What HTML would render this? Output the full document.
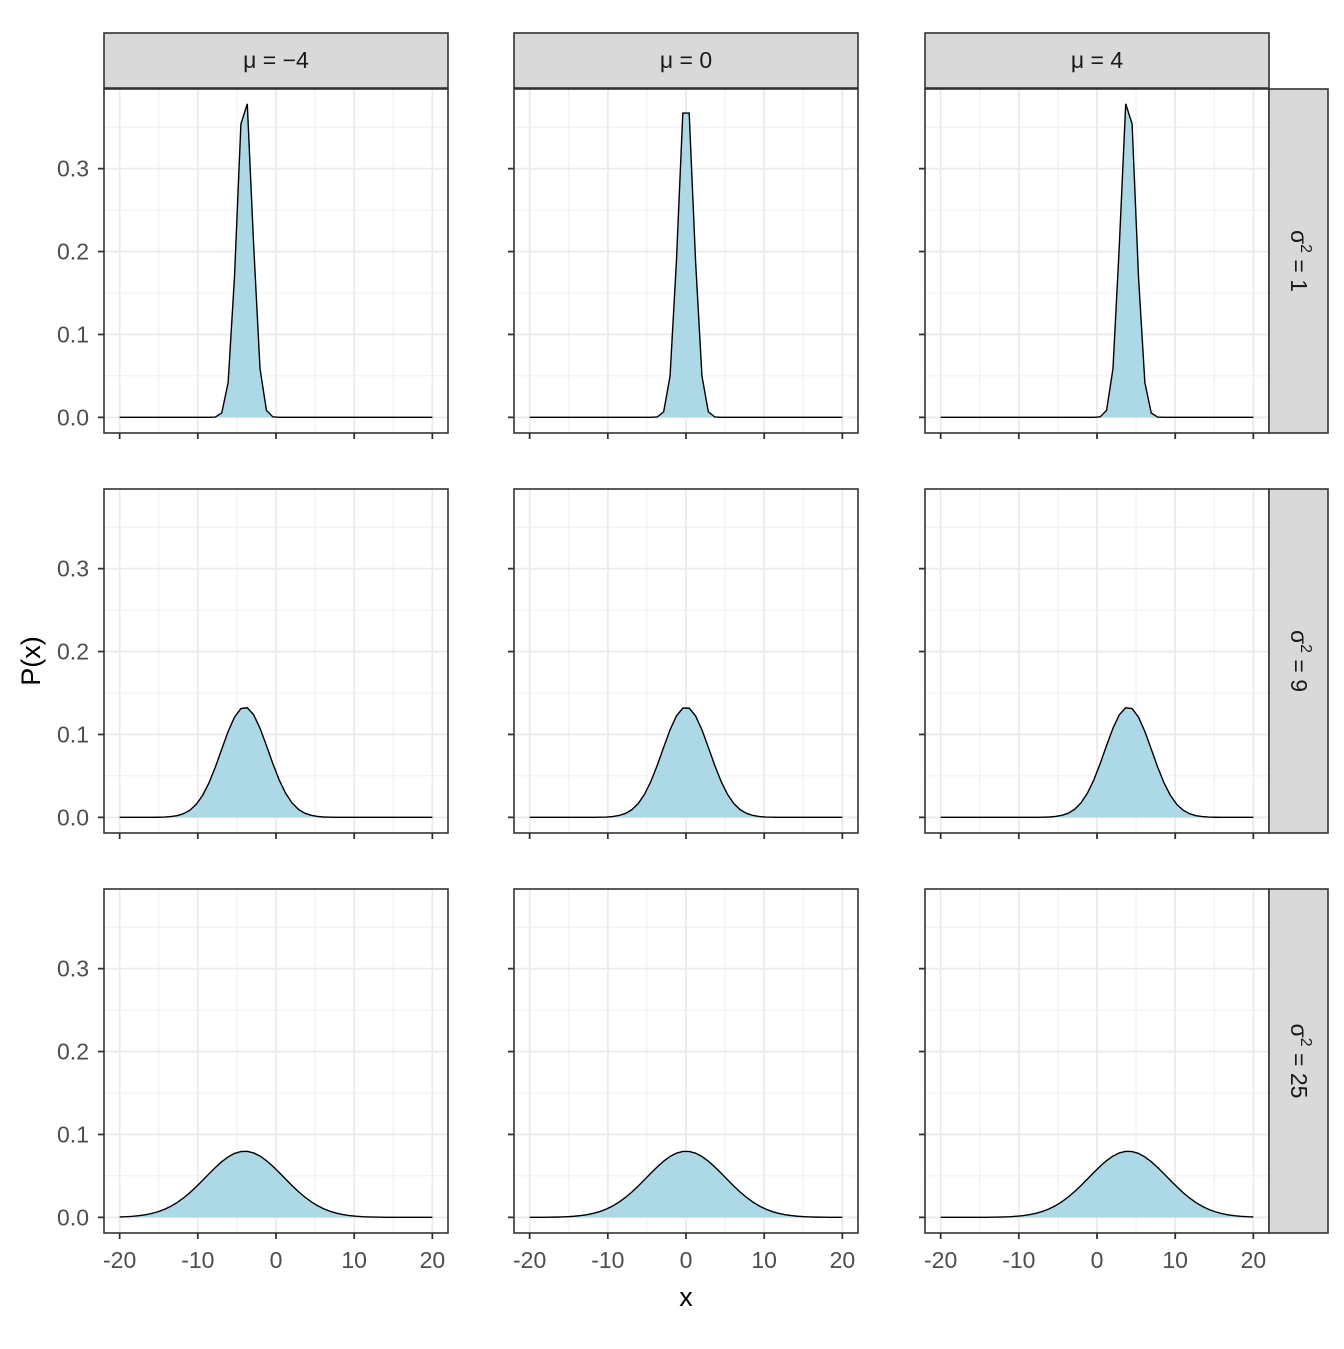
<!DOCTYPE html>
<html><head><meta charset="utf-8"><style>
html,body{margin:0;padding:0;background:#fff;}
svg text{font-family:"Liberation Sans","DejaVu Sans",sans-serif;}
</style></head><body>
<svg id="s" xmlns="http://www.w3.org/2000/svg" width="1344" height="1344" viewBox="0 0 1344 1344">
<rect width="1344" height="1344" fill="#fff"/>
</svg>
<script>
const s=document.getElementById('s');
let h='';
const cols=[104,514,925], rows=[89,489,889], W=344, H=344;
const mus=[-4,0,4], vars=[1,9,25];
const sx=W/44, ymax=0.3772, sy=H/(ymax*1.1);
function dn(x,m,v){return Math.exp(-(x-m)*(x-m)/(2*v))/Math.sqrt(2*Math.PI*v);}
const xs=[];for(let k=0;k<50;k++)xs.push(-20+40*k/49);
for(let r=0;r<3;r++)for(let c=0;c<3;c++){
 const L=cols[c],T=rows[r];
 const X=x=>L+(x+22)*sx, Y=y=>T+H-(y+ymax*0.05)*sy;
 h+=`<rect x="${L}" y="${T}" width="${W}" height="${H}" fill="#fff"/>`;
 for(const g of [-15,-5,5,15])h+=`<line x1="${X(g)}" x2="${X(g)}" y1="${T}" y2="${T+H}" stroke="#EBEBEB" stroke-width="0.8"/>`;
 for(const g of [0.05,0.15,0.25,0.35])h+=`<line y1="${Y(g)}" y2="${Y(g)}" x1="${L}" x2="${L+W}" stroke="#EBEBEB" stroke-width="0.8"/>`;
 for(const g of [-20,-10,0,10,20])h+=`<line x1="${X(g)}" x2="${X(g)}" y1="${T}" y2="${T+H}" stroke="#EBEBEB" stroke-width="1.8"/>`;
 for(const g of [0,0.1,0.2,0.3])h+=`<line y1="${Y(g)}" y2="${Y(g)}" x1="${L}" x2="${L+W}" stroke="#EBEBEB" stroke-width="1.8"/>`;
 const pts=xs.map(x=>X(x).toFixed(2)+','+Y(dn(x,mus[c],vars[r])).toFixed(2));
 h+=`<polygon points="${X(-20)},${Y(0)} ${pts.join(' ')} ${X(20)},${Y(0)}" fill="#ADD8E6"/>`;
 h+=`<polyline points="${pts.join(' ')}" fill="none" stroke="#000" stroke-width="1.4"/>`;
 h+=`<rect x="${L}" y="${T}" width="${W}" height="${H}" fill="none" stroke="#333" stroke-width="1.6"/>`;
 for(const g of [0,0.1,0.2,0.3]){
  h+=`<line x1="${L-6}" x2="${L}" y1="${Y(g)}" y2="${Y(g)}" stroke="#333" stroke-width="1.8"/>`;
  if(c==0)h+=`<text x="${L-15}" y="${Y(g)+8}" font-size="23" fill="#4D4D4D" text-anchor="end">${g.toFixed(1)}</text>`;
 }
 for(const g of [-20,-10,0,10,20]){
  h+=`<line x1="${X(g)}" x2="${X(g)}" y1="${T+H}" y2="${T+H+6}" stroke="#333" stroke-width="1.8"/>`;
  if(r==2)h+=`<text x="${X(g)}" y="${T+H+35}" font-size="23" fill="#4D4D4D" text-anchor="middle">${g}</text>`;
 }
 if(r==0){
  h+=`<rect x="${L}" y="33" width="${W}" height="55" fill="#D9D9D9" stroke="#333" stroke-width="1.6"/>`;
  h+=`<text x="${L+W/2}" y="68" font-size="23" fill="#1A1A1A" text-anchor="middle">μ = ${mus[c]<0?'−'+(-mus[c]):mus[c]}</text>`;
 }
 if(c==2){
  h+=`<rect x="1269" y="${T}" width="59" height="${H}" fill="#D9D9D9" stroke="#333" stroke-width="1.6"/>`;
  h+=`<text transform="translate(1291,${T+H/2}) rotate(90)" font-size="23" fill="#1A1A1A" text-anchor="middle">σ<tspan font-size="16" dy="-10">2</tspan><tspan dy="10"> = ${vars[r]}</tspan></text>`;
 }
}
h+=`<text x="686" y="1306" font-size="27" text-anchor="middle">x</text>`;
h+=`<text transform="translate(40,661) rotate(-90)" font-size="27" text-anchor="middle">P(x)</text>`;
s.insertAdjacentHTML('beforeend',h);
</script>
</body></html>
